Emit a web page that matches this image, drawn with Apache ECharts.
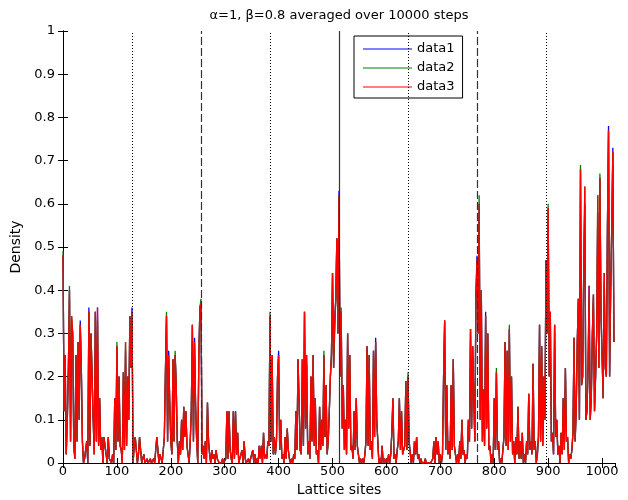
<!DOCTYPE html>
<html>
<head>
<meta charset="utf-8">
<script src="https://cdn.jsdelivr.net/npm/echarts/dist/echarts.min.js"></script>
<style>
  html, body { margin: 0; padding: 0; background: #fff; }
  #chart { width: 628px; height: 500px; }
</style>
</head>
<body>
<div id="chart"></div>
<script>
// one value every 2 lattice sites (one row = 64 sites)
const siteStep = 2;

const data1 = [
  .48,.12,.25,.02,.10,.22,.40,.05,.32,.30,.04,.01,.25,.05,.28,.10,.33,.22,.05,.00,.01,.01,.05,.00,.36,.04,.30,.30,.10,.02,.35,.05,
  .36,.04,.15,.03,.06,.00,.06,.04,.02,.00,.06,.01,.01,.00,.02,.00,.15,.03,.27,.05,.20,.04,.03,.00,.21,.03,.26,.04,.20,.10,.34,.22,
  .36,.00,.04,.06,.06,.00,.02,.06,.06,.00,.01,.02,.00,.00,.01,.00,.00,.01,.00,.00,.01,.00,.00,.06,.06,.00,.02,.01,.00,.00,.06,.21,
  .34,.05,.26,.14,.05,.02,.24,.05,.25,.18,.05,.00,.05,.02,.10,.03,.13,.06,.12,.04,.02,.00,.05,.12,.32,.05,.29,.13,.05,.00,.25,.36,
  .37,.02,.04,.01,.05,.00,.14,.05,.02,.00,.03,.01,.02,.00,.03,.01,.01,.00,.00,.00,.01,.00,.00,.01,.12,.01,.12,.03,.01,.00,.12,.01,
  .12,.02,.07,.00,.01,.02,.03,.00,.05,.01,.00,.00,.01,.00,.00,.02,.03,.00,.02,.00,.01,.00,.04,.01,.04,.00,.07,.01,.02,.01,.05,.04,
  .34,.05,.25,.02,.06,.02,.05,.20,.26,.03,.10,.01,.02,.00,.06,.01,.08,.03,.01,.00,.01,.00,.02,.01,.12,.03,.24,.14,.03,.02,.24,.04,
  .35,.08,.23,.02,.05,.01,.20,.05,.25,.04,.15,.02,.03,.00,.13,.03,.10,.04,.25,.06,.18,.02,.05,.12,.20,.25,.44,.22,.33,.38,.52,.30,
  .63,.20,.35,.08,.18,.03,.10,.02,.30,.08,.25,.03,.04,.01,.12,.03,.15,.04,.02,.00,.01,.00,.01,.00,.02,.05,.27,.04,.25,.03,.05,.01,
  .26,.06,.29,.10,.05,.00,.01,.00,.04,.00,.01,.00,.01,.00,.02,.00,.02,.07,.15,.01,.02,.00,.03,.05,.15,.03,.12,.02,.03,.04,.19,.03,
  .20,.05,.05,.00,.02,.00,.05,.02,.06,.01,.02,.00,.01,.00,.00,.00,.01,.00,.00,.00,.00,.00,.00,.01,.05,.00,.06,.02,.05,.00,.02,.00,
  .02,.20,.33,.03,.18,.02,.05,.01,.18,.03,.24,.04,.04,.00,.02,.00,.05,.01,.10,.02,.03,.00,.02,.01,.10,.05,.31,.08,.27,.15,.05,.39,
  .48,.30,.60,.10,.40,.05,.17,.04,.35,.08,.30,.03,.04,.00,.02,.00,.15,.03,.21,.03,.05,.00,.01,.00,.03,.06,.28,.04,.26,.03,.31,.05,
  .20,.02,.05,.00,.06,.02,.13,.01,.05,.01,.07,.00,.02,.00,.05,.02,.16,.03,.05,.02,.23,.03,.05,.00,.02,.06,.32,.05,.27,.04,.20,.10,
  .47,.30,.59,.20,.35,.05,.07,.02,.32,.06,.10,.02,.04,.00,.07,.02,.15,.03,.22,.05,.06,.00,.02,.01,.03,.07,.29,.05,.12,.28,.38,.10,
  .68,.18,.20,.45,.60,.10,.12,.22,.41,.10,.15,.30,.39,.12,.20,.30,.58,.22,.66,.35,.25,.15,.44,.22,.20,.55,.78,.20,.40,.55,.73,.28
];

const data2 = [
  .49,.12,.25,.02,.10,.22,.41,.05,.34,.30,.04,.01,.25,.05,.28,.10,.32,.22,.05,.00,.01,.01,.05,.00,.35,.04,.30,.30,.10,.02,.35,.05,
  .33,.04,.15,.03,.06,.00,.06,.04,.02,.00,.06,.01,.01,.00,.02,.00,.15,.03,.28,.05,.20,.04,.03,.00,.21,.03,.28,.04,.20,.10,.34,.22,
  .35,.00,.04,.06,.06,.00,.02,.06,.06,.00,.01,.02,.00,.00,.01,.00,.00,.01,.00,.00,.01,.00,.00,.06,.06,.00,.02,.01,.00,.00,.06,.21,
  .35,.05,.25,.14,.05,.02,.24,.05,.26,.18,.05,.00,.05,.02,.10,.03,.13,.06,.12,.04,.02,.00,.05,.12,.32,.05,.28,.13,.05,.00,.25,.36,
  .38,.02,.04,.01,.05,.00,.14,.05,.02,.00,.03,.01,.02,.00,.03,.01,.01,.00,.00,.00,.01,.00,.00,.01,.12,.01,.12,.03,.01,.00,.12,.01,
  .12,.02,.07,.00,.01,.02,.03,.00,.05,.01,.00,.00,.01,.00,.00,.02,.03,.00,.02,.00,.01,.00,.04,.01,.04,.00,.07,.01,.02,.01,.05,.04,
  .35,.05,.25,.02,.06,.02,.05,.20,.25,.03,.10,.01,.02,.00,.06,.01,.08,.03,.01,.00,.01,.00,.02,.01,.12,.03,.24,.14,.03,.02,.24,.04,
  .35,.08,.25,.02,.05,.01,.20,.05,.25,.04,.15,.02,.03,.00,.13,.03,.10,.04,.26,.06,.18,.02,.05,.12,.20,.25,.44,.22,.30,.38,.52,.30,
  .62,.20,.36,.08,.18,.03,.10,.02,.30,.08,.25,.03,.04,.01,.12,.03,.15,.04,.02,.00,.01,.00,.01,.00,.02,.05,.27,.04,.25,.03,.05,.01,
  .26,.06,.28,.10,.05,.00,.01,.00,.04,.00,.01,.00,.01,.00,.02,.00,.02,.07,.15,.01,.02,.00,.03,.05,.15,.03,.12,.02,.03,.04,.19,.03,
  .21,.05,.05,.00,.02,.00,.05,.02,.06,.01,.02,.00,.01,.00,.00,.00,.01,.00,.00,.00,.00,.00,.00,.01,.05,.00,.06,.02,.05,.00,.02,.00,
  .02,.20,.33,.03,.18,.02,.05,.01,.18,.03,.24,.04,.04,.00,.02,.00,.05,.01,.10,.02,.03,.00,.02,.01,.10,.05,.31,.08,.27,.15,.05,.38,
  .47,.30,.62,.10,.40,.05,.17,.04,.34,.08,.30,.03,.04,.00,.02,.00,.15,.03,.22,.03,.05,.00,.01,.00,.03,.06,.28,.04,.26,.03,.32,.05,
  .20,.02,.05,.00,.06,.02,.13,.01,.05,.01,.07,.00,.02,.00,.05,.02,.16,.03,.05,.02,.23,.03,.05,.00,.02,.06,.32,.05,.27,.04,.20,.10,
  .47,.30,.60,.20,.35,.05,.07,.02,.32,.06,.10,.02,.04,.00,.07,.02,.15,.03,.22,.05,.06,.00,.02,.01,.03,.07,.29,.05,.12,.28,.38,.10,
  .69,.18,.20,.45,.64,.10,.12,.22,.38,.10,.15,.30,.39,.12,.20,.30,.62,.22,.67,.35,.25,.15,.42,.22,.20,.55,.77,.20,.40,.55,.72,.28
];

const data3 = [
  .48,.12,.25,.02,.10,.22,.40,.05,.34,.30,.04,.01,.25,.05,.28,.10,.32,.22,.05,.00,.01,.01,.05,.00,.35,.04,.30,.30,.10,.02,.35,.05,
  .36,.04,.15,.03,.06,.00,.06,.04,.02,.00,.06,.01,.01,.00,.02,.00,.15,.03,.27,.05,.20,.04,.03,.00,.21,.03,.28,.04,.20,.10,.34,.22,
  .35,.00,.04,.06,.06,.00,.02,.06,.06,.00,.01,.02,.00,.00,.01,.00,.00,.01,.00,.00,.01,.00,.00,.06,.06,.00,.02,.01,.00,.00,.06,.21,
  .34,.05,.25,.14,.05,.02,.24,.05,.25,.18,.05,.00,.05,.02,.10,.03,.13,.06,.12,.04,.02,.00,.05,.12,.32,.05,.28,.13,.05,.00,.25,.36,
  .37,.02,.04,.01,.05,.00,.14,.05,.02,.00,.03,.01,.02,.00,.03,.01,.01,.00,.00,.00,.01,.00,.00,.01,.12,.01,.12,.03,.01,.00,.12,.01,
  .12,.02,.07,.00,.01,.02,.03,.00,.05,.01,.00,.00,.01,.00,.00,.02,.03,.00,.02,.00,.01,.00,.04,.01,.04,.00,.07,.01,.02,.01,.05,.04,
  .34,.05,.25,.02,.06,.02,.05,.20,.25,.03,.10,.01,.02,.00,.06,.01,.08,.03,.01,.00,.01,.00,.02,.01,.12,.03,.24,.14,.03,.02,.24,.04,
  .35,.08,.25,.02,.05,.01,.20,.05,.25,.04,.15,.02,.03,.00,.13,.03,.10,.04,.25,.06,.18,.02,.05,.12,.20,.25,.44,.22,.33,.38,.52,.30,
  .62,.20,.35,.08,.18,.03,.10,.02,.30,.08,.25,.03,.04,.01,.12,.03,.15,.04,.02,.00,.01,.00,.01,.00,.02,.05,.27,.04,.25,.03,.05,.01,
  .26,.06,.28,.10,.05,.00,.01,.00,.04,.00,.01,.00,.01,.00,.02,.00,.02,.07,.15,.01,.02,.00,.03,.05,.15,.03,.12,.02,.03,.04,.19,.03,
  .20,.05,.05,.00,.02,.00,.05,.02,.06,.01,.02,.00,.01,.00,.00,.00,.01,.00,.00,.00,.00,.00,.00,.01,.05,.00,.06,.02,.05,.00,.02,.00,
  .02,.20,.33,.03,.18,.02,.05,.01,.18,.03,.24,.04,.04,.00,.02,.00,.05,.01,.10,.02,.03,.00,.02,.01,.10,.05,.31,.08,.27,.15,.05,.38,
  .47,.30,.60,.10,.40,.05,.17,.04,.34,.08,.30,.03,.04,.00,.02,.00,.15,.03,.21,.03,.05,.00,.01,.00,.03,.06,.28,.04,.26,.03,.31,.05,
  .20,.02,.05,.00,.06,.02,.13,.01,.05,.01,.07,.00,.02,.00,.05,.02,.16,.03,.05,.02,.23,.03,.05,.00,.02,.06,.32,.05,.27,.04,.20,.10,
  .47,.30,.59,.20,.35,.05,.07,.02,.32,.06,.10,.02,.04,.00,.07,.02,.15,.03,.22,.05,.06,.00,.02,.01,.03,.07,.29,.05,.12,.28,.38,.10,
  .68,.18,.20,.45,.64,.10,.12,.22,.41,.10,.15,.30,.39,.12,.20,.30,.62,.22,.66,.35,.25,.15,.44,.22,.20,.55,.77,.20,.40,.55,.72,.28
];

// vertical guide lines
const markerSites = [128, 256, 384, 512, 640, 768, 896];
const markerKinds = ['dotted', 'dashed', 'dotted', 'solid', 'dotted', 'dashed', 'dotted'];

const seriesNames = ['data1', 'data2', 'data3'];
const seriesColors = ['#0000ff', '#008000', '#ff0000'];

const font = '"DejaVu Sans", "Liberation Sans", sans-serif';

const toPairs = arr => arr.map((v, i) => [i * siteStep, v]);

const lineTypes = {
  dotted: { type: [1, 2], color: '#000', width: 1 },
  dashed: { type: [8, 3], color: '#333', width: 1.2 },
  solid:  { type: 'solid', color: '#333', width: 1.2 }
};

const axisBits = {
  axisLine: { show: true, lineStyle: { color: '#000', width: 1 } },
  axisTick: { show: true, inside: true, length: 5, lineStyle: { color: '#000' } },
  splitLine: { show: false }
};

const chart = echarts.init(document.getElementById('chart'));

const series = [data1, data2, data3].map((d, k) => ({
  name: seriesNames[k],
  type: 'line',
  data: toPairs(d),
  symbol: 'none',
  lineStyle: { width: 1.3, color: seriesColors[k] },
  itemStyle: { color: seriesColors[k] },
  z: 2
}));

series.push({
  name: 'guides',
  type: 'line',
  data: [],
  z: 3,
  markLine: {
    silent: true,
    symbol: 'none',
    label: { show: false },
    data: markerSites.map((s, k) => ({ xAxis: s, lineStyle: lineTypes[markerKinds[k]] }))
  }
});

chart.setOption({
  animation: false,
  backgroundColor: '#fff',
  title: {
    text: '\u03b1=1, \u03b2=0.8 averaged over 10000 steps',
    left: 339,
    top: 9,
    padding: 0,
    textAlign: 'center',
    textStyle: { fontFamily: font, fontSize: 13, fontWeight: 'normal', color: '#000' }
  },
  legend: {
    data: seriesNames,
    orient: 'vertical',
    left: 354,
    top: 36,
    padding: [6, 8, 4, 9],
    itemWidth: 49,
    itemHeight: 1,
    itemGap: 5,
    icon: 'rect',
    borderColor: '#000',
    borderWidth: 1,
    backgroundColor: '#fff',
    textStyle: { fontFamily: font, fontSize: 13, color: '#000', lineHeight: 14 }
  },
  grid: { left: 63, right: 13, top: 31, bottom: 37, outerBoundsMode: 'none', containLabel: false },
  xAxis: [
    Object.assign({
      type: 'value', min: 0, max: 1024, interval: 100, position: 'bottom',
      name: 'Lattice sites', nameLocation: 'middle', nameGap: 19,
      nameTextStyle: { fontFamily: font, fontSize: 14, color: '#000' },
      axisLabel: { fontFamily: font, fontSize: 13, color: '#000', margin: 2, formatter: v => String(v) }
    }, axisBits),
    Object.assign({
      type: 'value', min: 0, max: 1024, interval: 100, position: 'top',
      axisLabel: { show: false }
    }, axisBits)
  ],
  yAxis: [
    Object.assign({
      type: 'value', min: 0, max: 1, interval: 0.1, position: 'left',
      name: 'Density', nameLocation: 'middle', nameGap: 34, nameRotate: 90,
      nameTextStyle: { fontFamily: font, fontSize: 14, color: '#000' },
      axisLabel: { fontFamily: font, fontSize: 13, color: '#000', margin: 8 }
    }, axisBits),
    Object.assign({
      type: 'value', min: 0, max: 1, interval: 0.1, position: 'right',
      axisLabel: { show: false }
    }, axisBits)
  ],
  series: series
});
</script>
</body>
</html>
